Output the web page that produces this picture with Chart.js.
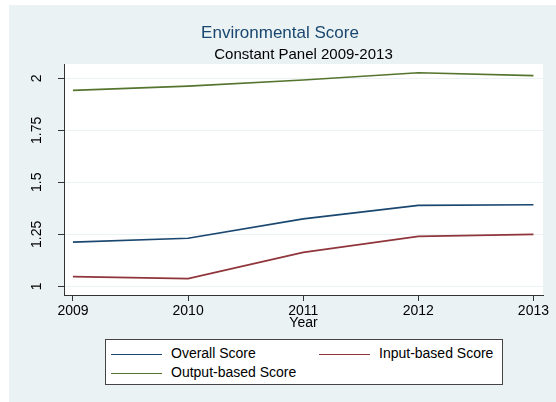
<!DOCTYPE html>
<html>
<head>
<meta charset="utf-8">
<script src="https://cdn.jsdelivr.net/npm/chart.js@4.4.1/dist/chart.umd.min.js"></script>
<style>
  body { margin: 0; background: #fff; font-family: 'Liberation Sans', Arial, sans-serif; }
  #wrap { position: absolute; left: 9px; top: 5px; width: 547px; height: 397px; background: #EAF2F3; }
  #legend { position: absolute; left: 96px; top: 334px; width: 398px; height: 46px; box-sizing: border-box;
            background: #fff; border: 1px solid #444; }
  .item { position: absolute; height: 18px; line-height: 18px; font-size: 14px; color: #000; white-space: nowrap; }
  .swatch { display: inline-block; width: 51px; height: 0; vertical-align: middle; margin-right: 9px; }
</style>
</head>
<body>
<div id="wrap">
  <canvas id="canvas" width="547" height="397"></canvas>
  <div id="legend"></div>
</div>
<script>
var years = [2009, 2010, 2011, 2012, 2013];
var overallScore = [1.212, 1.231, 1.324, 1.389, 1.392];
var inputScore = [1.046, 1.037, 1.163, 1.240, 1.250];
var outputScore = [1.942, 1.963, 1.992, 2.027, 2.013];
var yTicks = [1, 1.25, 1.5, 1.75, 2];

function toPoints(values) {
    return years.map(function(yr, i) { return { x: yr, y: values[i] }; });
}

var lineData = {
    datasets: [{
        label: 'Overall Score',
        data: toPoints(overallScore),
        borderColor: '#1A476F'
    }, {
        label: 'Input-based Score',
        data: toPoints(inputScore),
        borderColor: '#90353B'
    }, {
        label: 'Output-based Score',
        data: toPoints(outputScore),
        borderColor: '#55752F'
    }]
};

// white plot region like stata's plotregion
var plotBg = {
    id: 'plotBg',
    beforeDraw: function(chart) {
        var a = chart.chartArea, ctx = chart.ctx;
        ctx.save();
        ctx.fillStyle = '#fff';
        ctx.fillRect(a.left, a.top, a.right - a.left, a.bottom - a.top);
        ctx.restore();
    }
};

Chart.defaults.font.family = "'Liberation Sans', Arial, sans-serif";
Chart.defaults.color = '#000';

var myChart = null;
window.onload = function() {
    var ctx = document.getElementById('canvas').getContext('2d');
    myChart = new Chart(ctx, {
        type: 'line',
        data: lineData,
        plugins: [plotBg],
        options: {
            responsive: false,
            animation: false,
            layout: { padding: { left: 8, right: 13, top: 0, bottom: 67 } },
            elements: {
                line: { borderWidth: 1.7, tension: 0, fill: false },
                point: { radius: 0 }
            },
            plugins: {
                legend: { display: false },
                tooltip: { enabled: false },
                title: {
                    display: true,
                    text: 'Environmental Score',
                    color: '#1A476F',
                    font: { size: 17, weight: 'normal' },
                    padding: { top: 17.8, bottom: 0 }
                },
                subtitle: {
                    display: true,
                    fullSize: false,
                    text: 'Constant Panel 2009-2013',
                    color: '#000',
                    font: { size: 15 },
                    padding: { top: 2.8, bottom: 0 }
                }
            },
            scales: {
                x: {
                    type: 'linear',
                    min: 2008.922,
                    max: 2013.083,
                    afterBuildTicks: function(scale) {
                        scale.ticks = years.map(function(v) { return { value: v }; });
                    },
                    afterFit: function(scale) {
                        scale.height = 40;
                        scale.paddingLeft = 0;
                        scale.paddingRight = 0;
                    },
                    ticks: {
                        font: { size: 14 },
                        padding: 2,
                        maxRotation: 0,
                        callback: function(v) { return String(v); }
                    },
                    grid: { drawOnChartArea: false, tickLength: 6, tickColor: '#333' },
                    border: { color: '#333', width: 1 },
                    title: { display: true, text: 'Year', font: { size: 14 }, padding: { top: 0, bottom: 3.6 } }
                },
                y: {
                    min: 0.958,
                    max: 2.069,
                    afterBuildTicks: function(scale) {
                        scale.ticks = yTicks.map(function(v) { return { value: v }; });
                    },
                    afterFit: function(scale) {
                        scale.width = 47;
                        scale.paddingTop = 0;
                        scale.paddingBottom = 0;
                    },
                    ticks: {
                        font: { size: 14 },
                        padding: 7,
                        minRotation: 90,
                        maxRotation: 90,
                        crossAlign: 'center',
                        callback: function(v) { return String(v); }
                    },
                    grid: { color: '#EAF2F3', tickLength: 6, tickColor: '#333' },
                    border: { color: '#333', width: 1 }
                }
            }
        }
    });

    // legend in two columns, built from the datasets
    var box = document.getElementById('legend');
    myChart.data.datasets.forEach(function(ds, i) {
        var el = document.createElement('div');
        el.className = 'item';
        el.style.left = (i % 2 === 0 ? 5 : 213) + 'px';
        el.style.top = (Math.floor(i / 2) === 0 ? 4 : 23) + 'px';
        var sw = document.createElement('span');
        sw.className = 'swatch';
        sw.style.borderTop = '1.7px solid ' + ds.borderColor;
        el.appendChild(sw);
        el.appendChild(document.createTextNode(ds.label));
        box.appendChild(el);
    });
};
</script>
</body>
</html>
